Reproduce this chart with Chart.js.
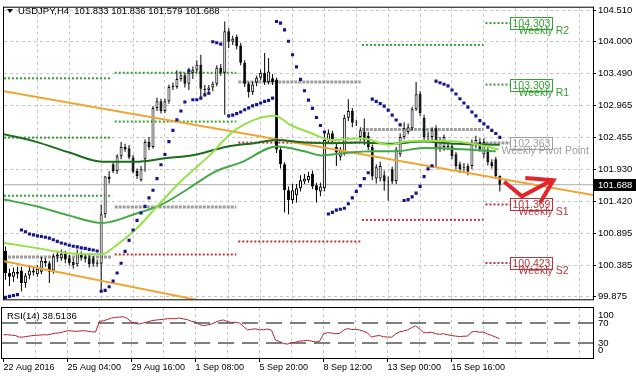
<!DOCTYPE html>
<html>
<head>
<meta charset="utf-8">
<title>USDJPY,H4</title>
<script src="https://cdn.jsdelivr.net/npm/chart.js@4.4.1/dist/chart.umd.min.js"></script>
<style>
  html, body { margin: 0; padding: 0; background: #fff; }
  #wrap { position: relative; width: 636px; height: 379px; overflow: hidden; background: #fff; }
  canvas { position: absolute; left: 0; }
  #cMain { top: 0; }
  #cRsi { top: 305px; }
</style>
</head>
<body>
<div id="wrap">
  <canvas id="cMain" width="636" height="307"></canvas>
  <canvas id="cRsi" width="636" height="74"></canvas>
</div>
<script>
// H4 candles, bar 0 = 22 Aug 12:00 ... bar 124 = current bar
const opens = [
  100.62,100.26,100.20,100.28,100.30,100.10,100.22,100.30,100.24,100.28,
  100.46,100.42,100.30,100.53,100.50,100.57,100.50,100.44,100.40,100.58,
  100.52,100.50,100.50,100.41,100.41,101.21,101.82,102.02,101.91,102.15,
  102.30,102.28,102.13,101.91,101.76,102.10,102.38,102.30,102.93,103.04,
  102.88,103.04,103.27,103.27,103.40,103.46,103.32,103.50,103.55,103.63,
  103.24,103.22,103.26,103.32,103.58,103.50,104.17,104.00,104.08,103.94,
  103.66,103.32,103.19,103.34,103.42,103.50,103.35,103.41,103.39,102.26,
  102.02,101.60,101.44,101.52,101.63,101.74,101.76,101.86,101.68,101.58,
  101.63,102.41,102.52,102.30,102.14,102.21,102.77,102.88,102.69,102.46,
  102.55,102.48,102.30,101.79,101.79,101.84,101.74,101.94,101.75,102.18,
  102.46,102.54,102.60,102.91,103.16,102.77,102.46,102.46,102.60,102.28,
  102.30,102.32,102.31,102.18,102.02,101.96,101.99,101.99,102.33,102.38,
  102.18,102.26,102.05,102.10,101.833];
const highs = [
  100.69,100.33,100.35,100.36,100.36,100.26,100.38,100.36,100.39,100.52,
  100.50,100.46,100.57,100.62,100.64,100.62,100.55,100.50,100.64,100.61,
  100.56,100.55,100.53,100.48,101.37,101.83,101.91,102.06,102.18,102.38,
  102.35,102.33,102.17,101.95,101.99,102.42,102.46,102.96,103.10,103.08,
  103.08,103.31,103.34,103.54,103.52,103.50,103.58,103.60,103.70,103.79,
  103.30,103.30,103.36,103.62,103.64,104.33,104.22,104.10,104.12,103.98,
  103.70,103.35,103.36,103.45,103.55,103.82,103.74,103.48,103.42,102.30,
  102.05,101.66,101.70,101.70,101.84,101.86,101.90,101.92,101.72,101.72,
  102.52,102.58,102.56,102.35,102.30,102.82,103.07,102.93,102.74,102.62,
  102.76,102.54,102.34,102.02,102.06,101.92,101.82,101.98,102.30,102.52,
  102.70,102.68,102.95,103.35,103.20,102.82,102.55,102.62,102.65,102.46,
  102.50,102.38,102.36,102.22,102.06,102.04,102.03,102.42,102.48,102.44,
  102.44,102.30,102.10,102.14,101.836];
const lows = [
  100.15,100.05,100.12,100.17,99.96,100.02,100.16,100.22,100.20,100.24,
  100.36,100.10,100.25,100.44,100.46,100.42,100.38,100.33,100.36,100.46,
  100.43,100.35,100.36,100.36,99.96,101.15,101.71,101.88,101.86,102.10,
  102.22,102.10,101.87,101.78,101.74,101.90,102.25,102.27,102.88,102.84,
  102.85,103.00,103.22,103.24,103.36,103.26,103.22,103.40,103.50,103.08,
  103.12,103.15,103.20,103.28,103.45,102.82,103.90,103.95,103.88,103.62,
  103.27,103.10,103.14,103.28,103.38,103.30,103.31,103.30,102.20,101.95,
  101.24,101.21,101.38,101.40,101.58,101.70,101.72,101.62,101.40,101.50,
  101.58,102.36,102.36,101.99,102.08,102.16,102.72,102.62,102.64,102.40,
  102.33,102.25,101.76,101.71,101.74,101.59,101.43,101.70,101.70,102.14,
  102.42,102.50,102.56,102.88,102.80,102.40,102.38,102.40,101.96,102.22,
  102.24,102.25,102.10,101.94,101.88,101.90,101.84,101.94,102.28,102.22,
  102.12,102.00,101.95,101.78,101.579];
const closes = [
  100.26,100.20,100.28,100.25,100.10,100.22,100.30,100.27,100.33,100.46,
  100.42,100.28,100.53,100.56,100.57,100.48,100.42,100.39,100.58,100.52,
  100.49,100.40,100.41,100.43,101.21,101.82,101.78,101.91,102.15,102.30,
  102.26,102.13,101.90,101.83,101.94,102.38,102.30,102.93,103.04,102.88,
  103.04,103.27,103.29,103.40,103.46,103.32,103.50,103.55,103.63,103.24,
  103.22,103.26,103.32,103.58,103.50,104.17,104.00,104.05,103.93,103.66,
  103.32,103.19,103.31,103.42,103.50,103.35,103.52,103.35,102.26,102.02,
  101.60,101.44,101.60,101.63,101.76,101.79,101.83,101.66,101.60,101.66,
  102.41,102.52,102.41,102.21,102.25,102.77,102.88,102.69,102.70,102.57,
  102.41,102.30,101.82,101.97,101.99,101.74,101.75,101.74,102.26,102.46,
  102.60,102.62,102.91,103.15,102.85,102.46,102.47,102.57,102.26,102.41,
  102.46,102.30,102.15,101.99,101.94,101.97,101.90,102.37,102.41,102.26,
  102.38,102.05,101.99,101.83,101.688];

// Parabolic SAR, one value per bar (null = hidden behind a candle)
const sar = [
  99.866,99.882,99.897,99.913,
  100.955,100.928,100.892,100.877,100.861,100.850,100.839,100.824,100.799,100.772,
  100.746,100.730,100.710,100.694,100.683,100.667,100.658,100.642,100.632,100.616,
  99.965,99.980,100.038,100.132,100.261,100.418,100.611,100.788,100.955,101.111,
  101.230,101.339,101.475,101.600,101.787,102.011,102.178,102.386,102.568,102.740,
  102.881,103.026,103.532,103.064,103.064,103.089,103.142,103.167,104.001,103.985,
  103.963,null,102.803,102.814,102.839,102.865,102.901,102.932,102.964,102.985,
  103.010,103.037,103.053,103.089,104.329,104.302,104.193,104.010,103.791,103.595,
  103.392,103.209,103.057,102.923,102.776,102.646,102.542,101.214,101.241,101.277,
  101.292,101.308,101.381,101.475,101.580,101.673,101.787,101.881,103.073,103.037,
  103.001,102.959,102.896,102.814,102.736,102.657,101.433,101.448,101.491,101.553,
  101.662,101.819,101.944,101.995,103.365,103.338,103.313,103.287,103.220,103.157,
  103.079,103.010,102.943,102.865,102.803,102.725,102.673,102.620,102.568,102.517,
  102.454];

// moving averages, read at knots (bar, price)
const maSlowX = [-0.375, 7.5, 16, 24.25, 32.5, 40, 48, 55.5, 62.5, 68, 75, 81.75, 89.25, 96.25, 104.75, 113, 124];
const maSlowY = [102.506, 102.386, 102.209, 102.061, 102.061, 102.115, 102.178, 102.303, 102.361, 102.412, 102.373, 102.361, 102.373, 102.350, 102.386, 102.350, 102.334];
const maMidX = [-0.375, 7.5, 16, 24.25, 32.5, 39.25, 46, 52.5, 59.25, 68, 75, 79.25, 84.25, 92.25, 98, 104.75, 113, 123];
const maMidY = [101.448, 101.345, 101.189, 101.069, 101.214, 101.370, 101.631, 101.897, 102.053, 102.308, 102.229, 102.162, 102.194, 102.229, 102.229, 102.283, 102.267, 102.229];
const maFastX = [-0.375, 7.5, 16, 24.25, 27.5, 32.5, 38.5, 44.25, 51, 57.5, 67.5, 71.75, 76.75, 81.75, 89.25, 96.25, 100.5, 104.75, 113, 121.25, 123.75];
const maFastY = [100.746, 100.667, 100.580, 100.564, 100.694, 100.955, 101.370, 101.761, 102.151, 102.568, 102.803, 102.646, 102.522, 102.412, 102.439, 102.334, 102.386, 102.401, 102.386, 102.298, 102.256];

// hand drawn trendlines and arrow
const trendUpperX = [-0.375, 147.375];
const trendUpperY = [103.20, 101.52];
const trendLowerX = [-0.375, 50];
const trendLowerY = [100.45, 99.80];
const arrowX = [125.1, 129.55, 137.05];
const arrowY = [101.736, 101.502, 101.761];
const arrowHeadX = [130.4, 137.45, 134.1];
const arrowHeadY = [101.798, 101.761, 101.397];

// weekly pivots, one entry per week
const weekFrom = [-0.375, 27.4, 58.4, 89.4, 120.4];
const weekTo = [26.75, 57.9, 89.1, 119.9, 126.6];
const pivotR3 = [103.41, null, null, null, null];
const pivotR2 = [102.45, 103.50, null, null, 104.303];
const pivotR1 = [101.51, 102.71, null, 103.95, 103.309];
const pivotPP = [100.52, 101.33, 103.35, 102.58, 102.363];
const pivotS1 = [null, 100.56, 102.37, 101.12, 101.369];
const pivotS2 = [null, null, 100.77, null, 100.423];
const weeklyNames = ['Weekly R2', 'Weekly R1', 'Weekly Pivot Point', 'Weekly S1', 'Weekly S2'];
const weeklyLevels = [104.303, 103.309, 102.363, 101.369, 100.423];
const weeklyKinds = ['R', 'R', 'P', 'S', 'S'];

// RSI(14)
const rsi = [
  46.6,46.5,45.8,44.9,41.5,42.0,43.3,44.6,45.3,45.8,46.5,46.2,48.1,49.7,50.3,52.4,
  54.6,54.1,53.3,54.0,54.6,53.8,52.4,52.0,
  73.3,74.6,77.0,80.0,81.3,81.8,82.6,78.6,72.0,68.9,68.0,70.5,72.0,74.6,75.8,76.6,
  77.5,78.6,78.9,78.6,80.0,78.2,76.6,73.3,
  72.0,66.6,65.0,66.0,68.0,71.5,74.8,76.0,72.8,71.0,71.5,70.0,63.0,56.2,57.5,58.4,
  56.2,56.8,58.0,55.5,
  36.0,33.0,29.0,27.9,30.5,31.5,33.8,34.5,35.5,33.8,32.0,33.5,48.0,50.7,50.0,48.5,
  49.0,55.5,59.0,57.0,57.2,56.2,
  53.5,50.0,41.7,44.0,45.0,42.5,42.0,41.7,48.0,52.0,54.0,56.2,60.5,64.5,58.0,50.7,
  50.5,51.5,
  48.6,47.5,48.5,46.5,45.0,43.8,43.0,43.5,43.8,52.0,53.5,51.5,52.0,48.0,45.2,42.0,
  38.5136];
const rsiLevels = [70, 30];
const rsiTicks = [100, 70, 30, 0];

// axes
const priceTicks = [104.510, 104.000, 103.490, 102.965, 102.455, 101.930, 101.420, 100.895, 100.385, 99.875];
const gridBars = [8, 16, 24, 32, 40, 48, 56, 64, 72, 80, 88, 96, 104, 112, 120, 128, 136, 144];
const labelBars = [0, 16, 32, 48, 64, 80, 96, 112];
const dateLabels = ['22 Aug 2016', '25 Aug 04:00', '29 Aug 16:00', '1 Sep 08:00', '5 Sep 20:00', '8 Sep 12:00', '13 Sep 00:00', '15 Sep 16:00'];

const X_MIN = -0.375, X_MAX = 147.375;
const Y_MIN = 99.835, Y_MAX = 104.552;
const FONT = '"Liberation Sans", Arial, sans-serif';
const GRID = '#c6c6c6';
const COL = { R: '#35a035', P: '#9e9e9e', S: '#b5363a' };

const pts = (xs, ys) => xs.map((x, i) => ({ x, y: ys[i] }));
const idx = closes.map((_, i) => i);
const last = closes.length - 1;
const bid = closes[last];

function lineSet(data, color, width, order, extra) {
  return Object.assign({ type: 'line', data, borderColor: color, borderWidth: width, pointRadius: 0, fill: false, order }, extra || {});
}

// main panel datasets (higher order = drawn further back)
const datasets = [];
[[pivotR3, 'R'], [pivotR2, 'R'], [pivotR1, 'R'], [pivotPP, 'P'], [pivotS1, 'S'], [pivotS2, 'S']].forEach(([lvl, kind]) => {
  lvl.forEach((v, w) => {
    if (v == null) return;
    datasets.push(lineSet([{ x: weekFrom[w], y: v }, { x: weekTo[w], y: v }], COL[kind],
      kind === 'P' ? 3 : 2, 9, { borderDash: kind === 'P' ? [3, 1] : [2, 2] }));
  });
});
datasets.push(lineSet([{ x: X_MIN, y: bid }, { x: X_MAX, y: bid }], '#a9a9a9', 1, 8));
datasets.push({
  type: 'bar', data: idx.map(i => ({ x: i, y: [lows[i], highs[i]] })),
  backgroundColor: '#000', borderWidth: 0, barThickness: 1, grouped: false, inflateAmount: 0, order: 7,
});
datasets.push({
  type: 'bar', data: idx.map(i => ({ x: i, y: [opens[i], closes[i]] })),
  backgroundColor: idx.map(i => closes[i] >= opens[i] ? '#fff' : '#000'),
  borderColor: '#000', borderWidth: 1, borderSkipped: false, barThickness: 3, grouped: false, inflateAmount: 0, order: 6,
});
datasets.push(lineSet(pts(trendUpperX, trendUpperY), '#f0a532', 2, 5));
datasets.push(lineSet(pts(trendLowerX, trendLowerY), '#f0a532', 2, 5));
datasets.push(lineSet(pts(maSlowX, maSlowY), '#1c6e1c', 2, 4, { tension: 0.4, cubicInterpolationMode: 'monotone' }));
datasets.push(lineSet(pts(maMidX, maMidY), '#45a847', 2, 3, { tension: 0.4, cubicInterpolationMode: 'monotone' }));
datasets.push(lineSet(pts(maFastX, maFastY), '#94e24a', 2, 2, { tension: 0.4, cubicInterpolationMode: 'monotone' }));
datasets.push(lineSet(idx.map(i => ({ x: i, y: sar[i] })), '#14148c', 0, 1, {
  showLine: false, pointStyle: 'rect', pointRadius: 2.2, pointBackgroundColor: '#14148c', pointBorderWidth: 0,
}));
datasets.push(lineSet(pts(arrowX, arrowY), '#e3242b', 4, 0));
datasets.push(lineSet(pts(arrowHeadX, arrowHeadY), '#e3242b', 4, 0));

function frame(ctx, a) {
  ctx.strokeStyle = '#000'; ctx.lineWidth = 1;
  ctx.strokeRect(a.left - 0.5, a.top - 0.5, a.right - a.left + 1, a.bottom - a.top + 1);
}

const mainOverlay = {
  id: 'mainOverlay',
  afterDatasetsDraw(chart) {
    const { ctx, scales: { x, y } } = chart;
    ctx.save();
    ctx.textBaseline = 'middle'; ctx.textAlign = 'left';
    ctx.font = '10.5px ' + FONT;
    weeklyLevels.forEach((v, i) => {
      const col = COL[weeklyKinds[i]];
      const py = Math.round(y.getPixelForValue(v)) + 0.5;
      const bx = Math.round(x.getPixelForValue(weekTo[4])) + 0.5;
      const txt = v.toFixed(3);
      const w = Math.round(ctx.measureText(txt).width) + 4;
      ctx.strokeStyle = col; ctx.lineWidth = 1;
      ctx.strokeRect(bx, py - 6, w, 12);
      ctx.fillStyle = col;
      ctx.fillText(txt, bx + 2, py + 0.5);
      ctx.fillText(weeklyNames[i], weeklyKinds[i] === 'P' ? bx - 9 : bx + 8, py + 7.5);
    });
    ctx.restore();
  },
  afterDraw(chart) {
    const { ctx, chartArea: a, scales: { y } } = chart;
    ctx.save();
    frame(ctx, a);
    // current price tag on the axis
    const py = Math.round(y.getPixelForValue(bid));
    ctx.fillStyle = '#000';
    ctx.fillRect(a.right + 1, py - 6, 43, 12);
    ctx.fillStyle = '#fff'; ctx.font = '9.5px ' + FONT; ctx.textBaseline = 'middle'; ctx.textAlign = 'left';
    ctx.fillText(bid.toFixed(3), a.right + 5, py);
    // title
    ctx.fillStyle = '#000';
    ctx.beginPath(); ctx.moveTo(7, 9); ctx.lineTo(13, 9); ctx.lineTo(10, 13); ctx.closePath(); ctx.fill();
    ctx.font = '9.5px ' + FONT;
    ctx.fillText(`USDJPY,H4  ${opens[last].toFixed(3)} ${highs[last].toFixed(3)} ${lows[last].toFixed(3)} ${closes[last].toFixed(3)}`, 18, 11);
    ctx.restore();
  },
};

const rsiOverlay = {
  id: 'rsiOverlay',
  afterDraw(chart) {
    const { ctx, chartArea: a, scales: { y } } = chart;
    const nudge = [7.4, 0, 0, -7.3];
    ctx.save();
    frame(ctx, a);
    ctx.fillStyle = '#000'; ctx.font = '9.5px ' + FONT; ctx.textBaseline = 'middle'; ctx.textAlign = 'left';
    ctx.fillText(`RSI(14) ${rsi[last].toFixed(4)}`, a.left + 5, a.top + 8.5);
    rsiTicks.forEach((v, i) => ctx.fillText(String(v), a.right + 5, y.getPixelForValue(v) + nudge[i]));
    ctx.restore();
  },
};

const base = {
  responsive: false, animation: false, devicePixelRatio: 1, events: [],
  plugins: { legend: { display: false }, tooltip: { enabled: false } },
};
const xBase = { type: 'linear', min: X_MIN, max: X_MAX, bounds: 'data', offset: false };

new Chart(document.getElementById('cMain'), {
  type: 'bar',
  data: { datasets },
  options: Object.assign({}, base, {
    layout: { padding: { left: 2, top: 3, right: 0, bottom: 2 } },
    scales: {
      x: Object.assign({}, xBase, {
        afterBuildTicks: s => { s.ticks = gridBars.map(v => ({ value: v })); },
        afterFit: s => { s.height = 0; },
        ticks: { display: false },
        grid: { color: GRID, drawTicks: false, offset: false },
        border: { display: false, dash: [3, 3] },
      }),
      y: {
        position: 'right', min: Y_MIN, max: Y_MAX, bounds: 'data',
        afterBuildTicks: s => { s.ticks = priceTicks.map(v => ({ value: v })); },
        afterFit: s => { s.width = 43; },
        ticks: { callback: v => v.toFixed(3), color: '#000', font: { family: FONT, size: 9.5 }, padding: 2 },
        grid: { color: GRID, tickColor: '#000', tickLength: 3, tickBorderDash: [] },
        border: { display: true, color: '#000', dash: [3, 3] },
      },
    },
  }),
  plugins: [mainOverlay],
});

new Chart(document.getElementById('cRsi'), {
  type: 'line',
  data: {
    datasets: [
      lineSet(idx.map(i => ({ x: i, y: rsi[i] })), '#b0222a', 1, 0),
      ...rsiLevels.map(v => lineSet([{ x: X_MIN, y: v }, { x: X_MAX, y: v }], '#000', 1, 1, { borderDash: [16, 8] })),
    ],
  },
  options: Object.assign({}, base, {
    layout: { padding: { left: 2, top: 3, right: 0, bottom: 0 } },
    scales: {
      x: Object.assign({}, xBase, {
        afterBuildTicks: s => { s.ticks = [0].concat(gridBars).map(v => ({ value: v })); },
        afterFit: s => { s.height = 21; },
        ticks: {
          autoSkip: false, maxRotation: 0, minRotation: 0, align: 'start', padding: 0,
          color: '#000', font: { family: FONT, size: 9 },
          callback: v => { const k = labelBars.indexOf(v); return k < 0 ? '' : dateLabels[k]; },
        },
        grid: {
          color: c => (c.tick && c.tick.value === 0) ? 'rgba(0,0,0,0)' : GRID,
          tickColor: c => (c.tick && labelBars.includes(c.tick.value)) ? '#000' : 'rgba(0,0,0,0)',
          tickLength: 4, tickBorderDash: [], offset: false,
        },
        border: { display: false, dash: [3, 3] },
      }),
      y: {
        position: 'right', min: 0, max: 100,
        afterFit: s => { s.width = 43; },
        ticks: { display: false }, grid: { display: false }, border: { display: false },
      },
    },
  }),
  plugins: [rsiOverlay],
});
</script>
</body>
</html>
